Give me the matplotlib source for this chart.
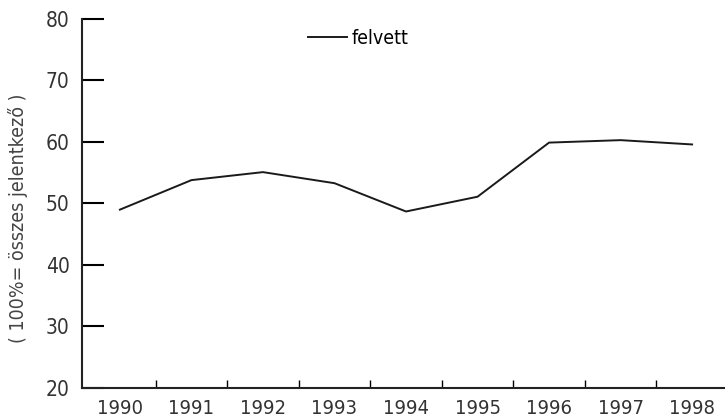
import matplotlib
matplotlib.use('Agg')
import matplotlib.pyplot as plt

years = [1990, 1991, 1992, 1993, 1994, 1995, 1996, 1997, 1998]
felvett = [49.0, 53.8, 55.1, 53.3, 48.7, 51.1, 59.9, 60.3, 59.6]
yticks = [20, 30, 40, 50, 60, 70, 80]

plt.rcParams['font.family'] = ['DejaVu Sans']
plt.rcParams['font.stretch'] = 'condensed'

fig = plt.figure(figsize=(7.25, 4.2), dpi=100)
ax = fig.add_axes([0.1131, 0.0762, 0.8869, 0.8786])

ax.plot(years, felvett, color='#1a1a1a', lw=1.4, label='felvett')

ax.set_xlim(1989.47, 1998.46)
ax.set_ylim(20, 80)

# year labels centred on the points, ticks in between
ax.set_xticks([y + 0.5 for y in years[:-1]])
ax.set_xticklabels([])
ax.set_xticks(years, minor=True)
ax.set_xticklabels([str(y) for y in years], minor=True, fontsize=14.5, color='#333333')
ax.tick_params(axis='x', which='major', direction='in', length=6, width=1)
ax.tick_params(axis='x', which='minor', length=0, pad=8)

ax.set_yticks(yticks)
ax.set_yticklabels([str(v) for v in yticks], fontsize=15, color='#333333')
ax.tick_params(axis='y', direction='in', length=16, width=1.5, pad=9)

for s in ['top', 'right']:
    ax.spines[s].set_visible(False)
for s in ['left', 'bottom']:
    ax.spines[s].set_linewidth(1.5)
    ax.spines[s].set_color('#222222')

fig.text(0.025, 0.48, '( 100%= összes jelentkező )', rotation=90,
         ha='center', va='center', fontsize=14, color='#444444')

ax.legend(loc='center left', bbox_to_anchor=(0.34, 0.948), frameon=False,
          handlelength=2.0, handletextpad=0.2, fontsize=14, borderaxespad=0)

fig.savefig('out.png', dpi=100)
